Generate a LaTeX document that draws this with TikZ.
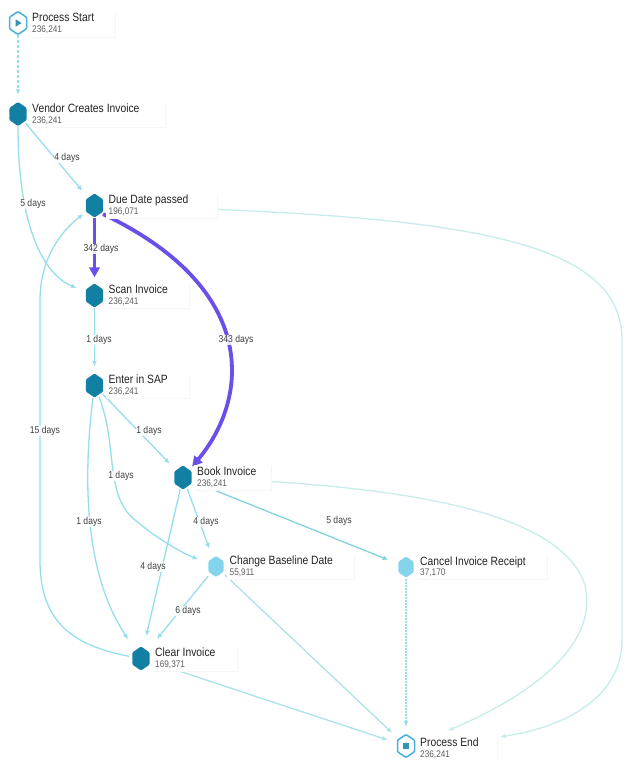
\documentclass[tikz,border=0pt]{standalone}
\usepackage{fontspec}
\setmainfont{Liberation Sans}[FakeStretch=0.86]
\usetikzlibrary{arrows.meta,calc}

\definecolor{hexdark}{RGB}{18,128,163}
\definecolor{hexlight}{RGB}{132,212,236}
\definecolor{hexrim}{RGB}{70,178,218}
\definecolor{flowc}{RGB}{150,222,238}
\definecolor{flowteal}{RGB}{128,212,218}
\definecolor{flowsoft}{RGB}{172,228,230}
\definecolor{flowfaint}{RGB}{200,236,236}
\definecolor{hotpath}{RGB}{108,78,232}
\definecolor{titletext}{RGB}{35,35,35}
\definecolor{counttext}{RGB}{95,95,95}
\definecolor{daytext}{RGB}{65,65,65}
\definecolor{cardshade}{RGB}{246,246,246}

\pgfdeclarelayer{canvas}
\pgfdeclarelayer{edges}
\pgfdeclarelayer{boxes}
\pgfsetlayers{canvas,edges,boxes,main}

% white card behind an activity's name and count, reaching #2 past the name
\newcommand{\actcard}[2]{%
  \fill[cardshade] ($(#1-t.north west)+(-1,0)$) rectangle ($(#1-t.east |- #1-c.south)+(#2+1,2.5)$);
  \fill[white] ($(#1-t.north west)+(-2,-1)$) rectangle ($(#1-t.east |- #1-c.south)+(#2,1.5)$);}

\begin{document}
\begin{tikzpicture}[x=1pt,y=-1pt,
  hexpt/.style={circle,minimum size=24pt,inner sep=0pt},
  acttitle/.style={anchor=base west,inner sep=1pt,text=titletext,
    font=\fontsize{12}{13}\selectfont},
  actcount/.style={anchor=base west,inner sep=1pt,text=counttext,
    font=\fontsize{9.6}{11}\selectfont},
  daylbl/.style={text=daytext,font=\fontsize{10}{11}\selectfont,inner sep=0.6pt,
    fill=white,fill opacity=0.85,text opacity=1},
  flow/.style={draw=flowc,line width=1.3pt,-{Latex[length=5.5pt,width=5pt]},shorten >=7pt},
  hot/.style={draw=hotpath,line width=3.8pt,-{Triangle[length=10pt,width=10.5pt]},shorten >=6pt},
  hexbig/.pic={\fill[hexdark,rounded corners=1.2pt] (0,-12) -- (8.7,-6) -- (8.7,6) -- (0,12) -- (-8.7,6) -- (-8.7,-6) -- cycle;},
  hexsmall/.pic={\fill[hexlight,rounded corners=1.2pt] (0,-10.5) -- (7.6,-5.25) -- (7.6,5.25) -- (0,10.5) -- (-7.6,5.25) -- (-7.6,-5.25) -- cycle;},
  hexstart/.pic={\filldraw[fill=white,draw=hexrim,line width=1.5pt,rounded corners=1pt] (0,-11.5) -- (8.5,-5.75) -- (8.5,5.75) -- (0,11.5) -- (-8.5,5.75) -- (-8.5,-5.75) -- cycle;
    \fill[hexdark!85] (-2.3,-3.6) -- (3.6,0) -- (-2.3,3.6) -- cycle;},
  hexend/.pic={\filldraw[fill=white,draw=hexrim,line width=1.5pt,rounded corners=1pt] (0,-11.5) -- (8.5,-5.75) -- (8.5,5.75) -- (0,11.5) -- (-8.5,5.75) -- (-8.5,-5.75) -- cycle;
    \fill[hexdark!85] (-2.6,-3.2) rectangle (2.6,3.2);},
]
\begin{pgfonlayer}{canvas}
  \fill[white] (0,0) rectangle (624,760);
\end{pgfonlayer}
\useasboundingbox (0,0) rectangle (624,760);

% activity anchors
\node[hexpt] (start)  at (18,23) {};
\node[hexpt] (vendor) at (18,114) {};
\node[hexpt] (due)    at (94.5,205.5) {};
\node[hexpt] (scan)   at (94.5,295.5) {};
\node[hexpt] (enter)  at (94.5,385.5) {};
\node[hexpt] (book)   at (183,477.5) {};
\node[hexpt] (change) at (216,566.5) {};
\node[hexpt] (cancel) at (406,567) {};
\node[hexpt] (clear)  at (141,658.5) {};
\node[hexpt] (end)    at (406,746) {};
\coordinate (endright) at (499,737);
\coordinate (endtop)   at (447,731);

% activity labels
\node[acttitle] (start-t)  at (31,21.5)   {Process Start};
\node[actcount] (start-c)  at (31,33)     {236,241};
\node[acttitle] (vendor-t) at (31,112.5)  {Vendor Creates Invoice};
\node[actcount] (vendor-c) at (31,123.5)  {236,241};
\node[acttitle] (due-t)    at (107.5,203.5) {Due Date passed};
\node[actcount] (due-c)    at (107.5,214) {196,071};
\node[acttitle] (scan-t)   at (107.5,293.5) {Scan Invoice};
\node[actcount] (scan-c)   at (107.5,304) {236,241};
\node[acttitle] (enter-t)  at (107.5,383.5) {Enter in SAP};
\node[actcount] (enter-c)  at (107.5,394) {236,241};
\node[acttitle] (book-t)   at (196,475.5) {Book Invoice};
\node[actcount] (book-c)   at (196,486)   {236,241};
\node[acttitle] (change-t) at (228.5,564.5) {Change Baseline Date};
\node[actcount] (change-c) at (228.5,575) {55,911};
\node[acttitle] (cancel-t) at (419,565)   {Cancel Invoice Receipt};
\node[actcount] (cancel-c) at (419,575.5) {37,170};
\node[acttitle] (clear-t)  at (154,656.5) {Clear Invoice};
\node[actcount] (clear-c)  at (154,667)   {169,371};
\node[acttitle] (end-t)    at (419,746.5) {Process End};
\node[actcount] (end-c)    at (419,757)   {236,241};

\begin{pgfonlayer}{boxes}
  \actcard{start}{20}
  \actcard{vendor}{24}
  \actcard{due}{27}
  \actcard{scan}{20}
  \actcard{enter}{20}
  \actcard{book}{14}
  \actcard{change}{20}
  \actcard{cancel}{20}
  \actcard{clear}{20}
  \actcard{end}{17}
\end{pgfonlayer}

% connectors
\begin{pgfonlayer}{edges}
\draw[flow,dash pattern=on 3pt off 2pt] (start) -- (vendor);
\draw[flow] (vendor) -- (due);
\draw[flow] (vendor) .. controls (18,230) and (45,275) .. (scan);
\draw[flow] (scan) -- (enter);
\draw[flow] (enter) -- (book);
\draw[flow] (enter) .. controls (118,445) and (104,495) .. (135,520)
                   .. controls (155,537) and (180,552) .. (change);
\draw[flow,shorten >=11pt] (enter) .. controls (84,470) and (82,570) .. (clear);
\draw[flow,shorten >=2pt] (clear) .. controls (70,645) and (40,620) .. (40,560)
                   -- (40,300) .. controls (40,260) and (60,232) .. (due);
\draw[flow] (book) -- (change);
\draw[flow,shorten >=11pt] (book) -- (clear);
\draw[flow,shorten >=13pt] (change) -- (clear);
\draw[flow,draw=flowteal] (book) -- (cancel);
\draw[flow,draw=flowsoft] (change) -- (end);
\draw[flow,draw=flowsoft] (clear) -- (end);
\draw[flow,draw=flowc,dash pattern=on 1.5pt off 1.5pt] (cancel) -- (end);
\draw[flow,draw=flowfaint,shorten >=1pt] (book) .. controls (400,485) and (560,510) .. (585,585)
                   .. controls (600,650) and (520,700) .. (endtop);
\draw[flow,draw=flowfaint,shorten >=1pt] (due) .. controls (450,215) and (622,235) .. (622,340)
                   -- (622,640) .. controls (622,700) and (560,728) .. (endright);
\draw[hot] (due) -- (scan);
\draw[hot,shorten >=2pt] (due.south east) .. controls (262,290) and (248,400) .. (book);
\end{pgfonlayer}

% durations
\node[daylbl] (d1)  at (67,158)  {4 days};
\node[daylbl] (d2)  at (33,204)  {5 days};
\node[daylbl] (d3)  at (101,249) {342 days};
\node[daylbl] (d4)  at (236,340) {343 days};
\node[daylbl] (d5)  at (99,340)  {1 days};
\node[daylbl] (d6)  at (149,431) {1 days};
\node[daylbl] (d7)  at (121,476) {1 days};
\node[daylbl] (d8)  at (89,522)  {1 days};
\node[daylbl] (d9)  at (45,431)  {15 days};
\node[daylbl] (d10) at (206,522) {4 days};
\node[daylbl] (d11) at (153,567) {4 days};
\node[daylbl] (d12) at (188,611) {6 days};
\node[daylbl] (d13) at (339,521) {5 days};

% activity symbols
\pic at (start) {hexstart};
\pic at (vendor) {hexbig};
\pic at (due) {hexbig};
\pic at (scan) {hexbig};
\pic at (enter) {hexbig};
\pic at (book) {hexbig};
\pic at (change) {hexsmall};
\pic at (cancel) {hexsmall};
\pic at (clear) {hexbig};
\pic at (end) {hexend};
\end{tikzpicture}
\end{document}
